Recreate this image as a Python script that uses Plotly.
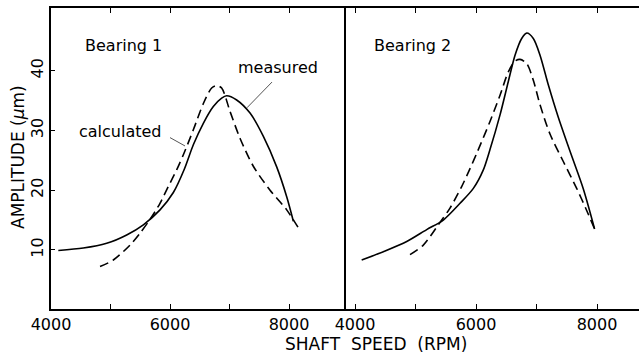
import plotly.graph_objects as go

# Bearing 1
b1_meas_x = [4123, 4543, 4936, 5272, 5552, 5832, 6056, 6240, 6392, 6560, 6728, 6868, 6952, 7120, 7345, 7569, 7793, 7961, 8073]
b1_meas_y = [9.9, 10.3, 11.1, 12.5, 14.2, 16.7, 19.6, 23.5, 27.6, 31.2, 34.0, 35.4, 35.8, 35.1, 32.9, 29.0, 23.9, 18.9, 14.8]
b1_calc_x = [4824, 5047, 5328, 5496, 5664, 5832, 5971, 6112, 6240, 6392, 6560, 6700, 6784, 6868, 7008, 7176, 7400, 7681, 7961, 8150]
b1_calc_y = [7.2, 8.3, 10.8, 12.8, 15.1, 17.8, 20.6, 23.4, 26.3, 30.1, 34.5, 37.1, 37.5, 37.1, 33.2, 28.7, 24.0, 20.0, 16.7, 13.8]

# Bearing 2
b2_meas_x = [4110, 4468, 4855, 5185, 5460, 5736, 5956, 6121, 6231, 6397, 6534, 6645, 6755, 6838, 6947, 7058, 7196, 7360, 7554, 7774, 7960]
b2_meas_y = [8.3, 9.7, 11.4, 13.4, 15.0, 17.8, 20.3, 23.4, 26.8, 32.6, 38.2, 42.6, 45.4, 46.3, 45.4, 42.6, 37.6, 32.2, 26.5, 20.2, 13.5]
b2_calc_x = [4909, 5129, 5377, 5570, 5763, 5901, 6030, 6231, 6397, 6534, 6645, 6727, 6838, 6947, 7058, 7223, 7443, 7664, 7829, 7960]
b2_calc_y = [9.2, 10.8, 14.2, 17.0, 20.6, 23.6, 26.6, 31.5, 35.9, 39.8, 41.6, 41.9, 41.2, 38.4, 34.3, 29.4, 24.8, 20.3, 16.6, 13.5]

x_tickvals = [4000, 5000, 6000, 7000, 8000]
x_ticktext = ["4000", "", "6000", "", "8000"]
y_tickvals = [10, 20, 30, 40]

FONT = "DejaVu Sans"
solid = dict(color="black", width=1.6, shape="spline", smoothing=0.8)
dashed = dict(color="black", width=1.6, dash="9px,5px", shape="spline", smoothing=0.8)

fig = go.Figure()
fig.add_trace(go.Scatter(x=b1_meas_x, y=b1_meas_y, mode="lines", line=solid, xaxis="x", yaxis="y"))
fig.add_trace(go.Scatter(x=b1_calc_x, y=b1_calc_y, mode="lines", line=dashed, xaxis="x", yaxis="y"))
fig.add_trace(go.Scatter(x=b2_meas_x, y=b2_meas_y, mode="lines", line=solid, xaxis="x2", yaxis="y2"))
fig.add_trace(go.Scatter(x=b2_calc_x, y=b2_calc_y, mode="lines", line=dashed, xaxis="x2", yaxis="y2"))

split = (344 - 51) / 588

common_x = dict(
    showline=True, linecolor="black", linewidth=1.5, mirror="ticks",
    ticks="inside", ticklen=5, tickwidth=1.3, tickcolor="black",
    tickvals=x_tickvals, ticktext=x_ticktext, showgrid=False, zeroline=False,
    tickfont=dict(family=FONT, size=16, color="black"),
)

fig.update_layout(
    width=639, height=354,
    margin=dict(l=51, r=0, t=8, b=45),
    paper_bgcolor="white", plot_bgcolor="white",
    showlegend=False,
    xaxis=dict(domain=[0, split], range=[4000, 8924], **common_x),
    xaxis2=dict(domain=[split, 1], range=[3818, 8694], anchor="y2", **common_x),
    yaxis=dict(
        range=[0.1, 50.5], showline=True, linecolor="black", linewidth=1.5, mirror=True,
        ticks="inside", ticklen=4, tickwidth=1.3, tickcolor="black",
        tickvals=y_tickvals, tickangle=-90, showgrid=False, zeroline=False,
        tickfont=dict(family=FONT, size=16, color="black"),
    ),
    yaxis2=dict(
        range=[0.1, 50.5], anchor="x2", showline=False, showticklabels=False,
        ticks="", showgrid=False, zeroline=False,
    ),
    annotations=[
        dict(text="AMPLITUDE (<i>μ</i>m)", xref="paper", yref="paper", x=(18 - 51) / 588,
             y=(309 - 157) / 301, textangle=-90, xanchor="center", yanchor="middle",
             showarrow=False, font=dict(family=FONT, size=17, color="black")),
        dict(text="SHAFT  SPEED  (RPM)", xref="paper", yref="paper", x=(376 - 51) / 588, y=-0.115,
             xanchor="center", yanchor="middle", showarrow=False,
             font=dict(family=FONT, size=17, color="black")),
        dict(text="Bearing 1", xref="x", yref="y", x=5210, y=44.3, showarrow=False,
             font=dict(family=FONT, size=16, color="black")),
        dict(text="Bearing 2", xref="x2", yref="y2", x=4942, y=44.3, showarrow=False,
             font=dict(family=FONT, size=16, color="black")),
        dict(text="measured", xref="x", yref="y", x=7815, y=40.5, showarrow=False,
             font=dict(family=FONT, size=16, color="black")),
        dict(text="calculated", xref="x", yref="y", x=5160, y=29.8, showarrow=False,
             font=dict(family=FONT, size=16, color="black")),
    ],
    shapes=[
        dict(type="line", xref="x", yref="y", x0=7714, y0=38.1, x1=7294, y1=33.8,
             line=dict(color="#555555", width=1)),
        dict(type="line", xref="x", yref="y", x0=6000, y0=28.8, x1=6252, y1=27.4,
             line=dict(color="#555555", width=1)),
    ],
)

fig.write_html("out.html")
